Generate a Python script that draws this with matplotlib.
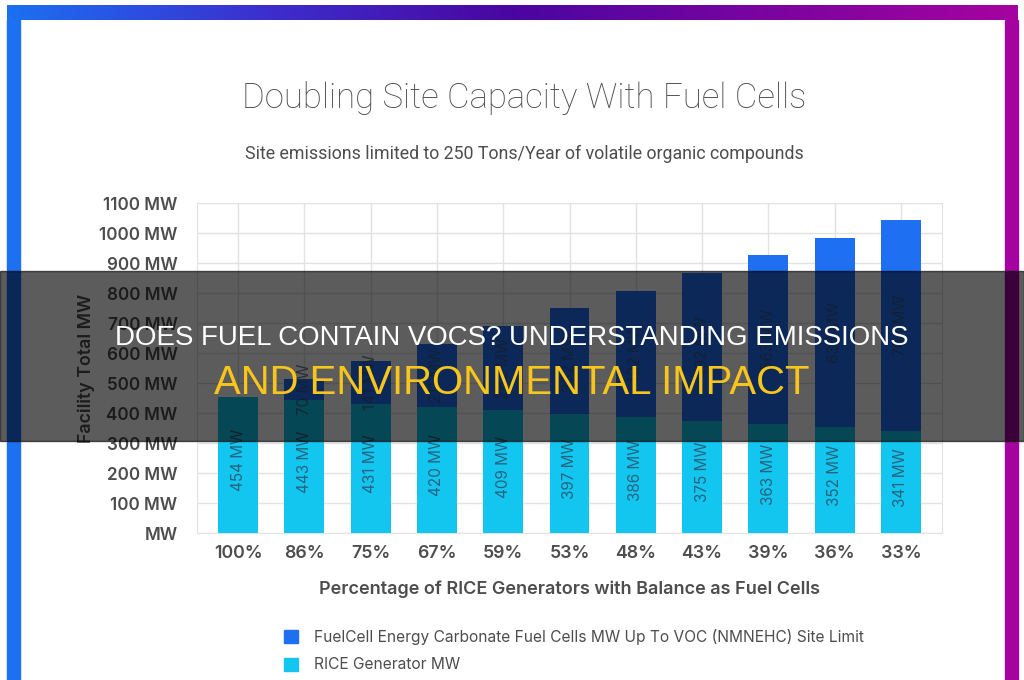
import numpy as np
import matplotlib
matplotlib.use("Agg")
import matplotlib.pyplot as plt
from matplotlib.patches import Rectangle, Patch
from matplotlib.colors import LinearSegmentedColormap

# data
categories = ["100%", "86%", "75%", "67%", "59%", "53%", "48%", "43%", "39%", "36%", "33%"]
rice_mw = [454, 443, 431, 420, 409, 397, 386, 375, 363, 352, 341]
fuelcell_mw = [0, 70, 141, 211, 282, 352, 422, 492, 563, 633, 704]
y_ticks = [0, 100, 200, 300, 400, 500, 600, 700, 800, 900, 1000, 1100]
y_ticklabels = ["MW"] + [f"{v} MW" for v in y_ticks[1:]]

TITLE = "Doubling Site Capacity With Fuel Cells"
SUBTITLE = "Site emissions limited to 250 Tons/Year of volatile organic compounds"
XLABEL = "Percentage of RICE Generators with Balance as Fuel Cells"
YLABEL = "Facility Total MW"
LEG_FC = "FuelCell Energy Carbonate Fuel Cells MW Up To VOC (NMNEHC) Site Limit"
LEG_RICE = "RICE Generator MW"
HEAD1 = "DOES FUEL CONTAIN VOCS? UNDERSTANDING EMISSIONS"
HEAD2 = "AND ENVIRONMENTAL IMPACT"

BLUE = "#1f6ff3"
CYAN = "#12c6ef"
GREY_TXT = "#4d4d4d"
GRID = "#e2e2e2"

W, H = 1024, 680


def px(x, y):
    # pixel (top-left origin) -> figure fraction
    return x / W, 1 - y / H


fig = plt.figure(figsize=(W / 100, H / 100), dpi=100)
fig.patch.set_facecolor("white")

# gradient frame
frame_cmap = LinearSegmentedColormap.from_list(
    "frame", ["#1c70f2", "#3b30cf", "#4a06a0", "#7a04a0", "#a5039f"])
top = fig.add_axes([7 / W, 1 - 20 / H, (1018 - 7) / W, 15 / H])
top.imshow(np.linspace(0, 1, 256)[None, :], aspect="auto", cmap=frame_cmap)
top.set_axis_off()
fig.patches.append(Rectangle(px(7, 680), 13 / W, 660 / H, transform=fig.transFigure,
                             color="#1c70f2", zorder=1))
fig.patches.append(Rectangle(px(1005, 680), 13 / W, 660 / H, transform=fig.transFigure,
                             color="#a5039f", zorder=1))

# main chart
l, r, t, b = 197, 942, 203, 533
ax = fig.add_axes([l / W, 1 - b / H, (r - l) / W, (b - t) / H])
x = np.arange(len(categories))
ax.bar(x, rice_mw, width=0.6, color=CYAN, zorder=3)
ax.bar(x, fuelcell_mw, width=0.6, bottom=rice_mw, color=BLUE, zorder=3)

for xi, rv, fv in zip(x, rice_mw, fuelcell_mw):
    ax.text(xi, rv / 2 + 15, f"{rv} MW", rotation=90, ha="center", va="center",
            fontsize=11, color="#2e4257", alpha=0.75, family="Inter", zorder=4)
    if fv > 0:
        ax.text(xi, rv + fv / 2, f"{fv} MW", rotation=90, ha="center", va="center",
                fontsize=11, color="#3a5478", alpha=0.75, family="Inter", zorder=4)

ax.set_xlim(-0.62, len(categories) - 0.38)
ax.set_ylim(0, 1100)
ax.set_yticks(y_ticks)
ax.set_yticklabels(y_ticklabels)
ax.set_xticks(x)
ax.set_xticklabels(categories)
ax.tick_params(length=0, colors=GREY_TXT)
ax.tick_params(axis="y", pad=14, labelsize=12.3)
ax.tick_params(axis="x", pad=9, labelsize=12.8)
for lab in ax.get_yticklabels() + ax.get_xticklabels():
    lab.set_family("Inter")
    lab.set_weight("semibold")
ax.grid(True, color=GRID, linewidth=1, zorder=0)
ax.set_axisbelow(True)
for s in ax.spines.values():
    s.set_color(GRID)

ax.set_ylabel(YLABEL, fontsize=12.8, color=GREY_TXT, family="Inter",
              weight="semibold", labelpad=3)
ax.set_xlabel(XLABEL, fontsize=13, color=GREY_TXT, family="Inter",
              weight="semibold", labelpad=13)

fig.text(*px(524, 98), TITLE, ha="center", va="center", fontsize=25,
         family="Roboto", weight="light", color=GREY_TXT)
fig.text(*px(524, 154), SUBTITLE, ha="center", va="center", fontsize=12.8,
         family="Roboto", color=GREY_TXT)

handles = [Patch(color=BLUE), Patch(color=CYAN)]
fig.legend(handles, [LEG_FC, LEG_RICE], loc="upper left",
           bbox_to_anchor=px(270, 615), frameon=False, handlelength=0.9,
           handleheight=0.9, handletextpad=1.0, labelspacing=0.8,
           prop={"family": "Inter", "size": 11.2}, labelcolor=GREY_TXT)

# dark headline band
fig.patches.append(Rectangle(px(0, 441), 1, 170 / H, transform=fig.transFigure,
                             color="black", alpha=0.64, zorder=10))
fig.text(*px(512, 338), HEAD1, ha="center", va="center", fontsize=19.9,
         family="Liberation Sans", color="white", zorder=11)
fig.text(*px(512, 383), HEAD2, ha="center", va="center", fontsize=28.9,
         family="Liberation Sans", color="#f7c51c", zorder=11)

fig.savefig("out.png", dpi=100)
